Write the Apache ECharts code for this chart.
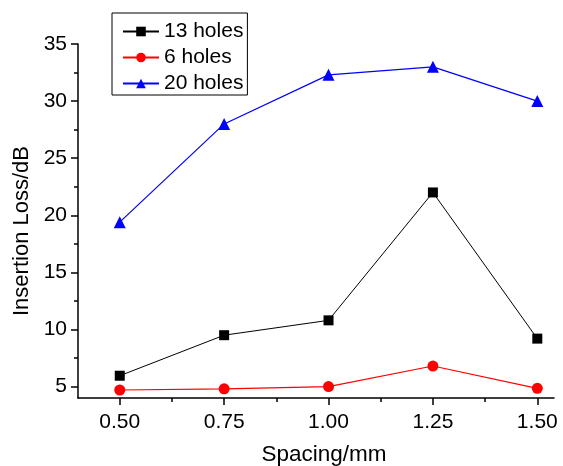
<!DOCTYPE html>
<html>
<head>
<meta charset="utf-8">
<script src="https://cdn.jsdelivr.net/npm/echarts@6/dist/echarts.min.js"></script>
<style>
  html, body { margin: 0; padding: 0; background: #fff; }
  #chart { width: 563px; height: 466px; }
</style>
</head>
<body>
<div id="chart"></div>
<script>
// Hole spacing (mm) on the x axis
const spacing = [0.50, 0.75, 1.00, 1.25, 1.50];
// Insertion loss (dB) for each perforation count
const holes13 = [5.95, 9.5, 10.8, 22.0, 9.2];
const holes6 = [4.7, 4.8, 5.0, 6.8, 4.85];
const holes20 = [19.4, 28.0, 32.3, 33.0, 30.0];
// Axis tick positions
const xMajorTicks = [0.50, 0.75, 1.00, 1.25, 1.50];
const xMinorTicks = [0.625, 0.875, 1.125, 1.375];
const yMajorTicks = [5, 10, 15, 20, 25, 30, 35];
const yMinorTicks = [7.5, 12.5, 17.5, 22.5, 27.5, 32.5];

const FONT = 'Liberation Sans, Arial, sans-serif';
const pairs = (ys) => spacing.map((x, i) => [x, ys[i]]);

const chart = echarts.init(document.getElementById('chart'));
chart.setOption({
  animation: false,
  backgroundColor: '#fff',
  grid: { left: 78, right: 9, top: 44, bottom: 68, containLabel: false, outerBoundsMode: 'none' },
  legend: {
    left: 112, top: 13, orient: 'vertical',
    padding: [8, 4, 1, 10],
    borderColor: '#000', borderWidth: 1,
    itemWidth: 36, itemHeight: 12, itemGap: 5,
    textStyle: { fontFamily: FONT, fontSize: 21, color: '#000' },
    data: ['13 holes', '6 holes', '20 holes']
  },
  xAxis: [{
    type: 'value', min: 0.4, max: 1.54,
    name: 'Spacing/mm', nameLocation: 'middle', nameGap: 45,
    nameTextStyle: { fontFamily: FONT, fontSize: 22.5, color: '#000', padding: [0, 0, 0, 16] },
    axisLine: { show: true, lineStyle: { color: '#000', width: 1.5 } },
    axisTick: { show: true, customValues: xMajorTicks, length: 7, lineStyle: { color: '#000', width: 1.5 } },
    axisLabel: {
      customValues: xMajorTicks, margin: 14,
      fontFamily: FONT, fontSize: 21, color: '#000',
      formatter: (v) => v.toFixed(2)
    },
    splitLine: { show: false }
  }, {
    type: 'value', min: 0.4, max: 1.54, position: 'bottom',
    axisLine: { show: false },
    axisTick: { show: true, customValues: xMinorTicks, length: 4, lineStyle: { color: '#000', width: 1.5 } },
    axisLabel: { show: false },
    splitLine: { show: false }
  }],
  yAxis: [{
    type: 'value', min: 4, max: 35,
    name: 'Insertion Loss/dB', nameLocation: 'middle', nameGap: 41,
    nameTextStyle: { fontFamily: FONT, fontSize: 22, color: '#000', padding: [0, 20, 0, 0] },
    axisLine: { show: true, lineStyle: { color: '#000', width: 1.5 } },
    axisTick: { show: true, customValues: yMajorTicks, length: 7, lineStyle: { color: '#000', width: 1.5 } },
    axisLabel: {
      customValues: yMajorTicks, margin: 11,
      fontFamily: FONT, fontSize: 21, color: '#000'
    },
    splitLine: { show: false }
  }, {
    type: 'value', min: 4, max: 35, position: 'left',
    axisLine: { show: false },
    axisTick: { show: true, customValues: yMinorTicks, length: 4, lineStyle: { color: '#000', width: 1.5 } },
    axisLabel: { show: false },
    splitLine: { show: false }
  }],
  series: [{
    name: '13 holes', type: 'line', data: pairs(holes13),
    symbol: 'rect', symbolSize: 10,
    itemStyle: { color: '#000' },
    lineStyle: { color: '#000', width: 1 }
  }, {
    name: '6 holes', type: 'line', data: pairs(holes6),
    symbol: 'circle', symbolSize: 11,
    itemStyle: { color: '#ff0000' },
    lineStyle: { color: '#ff0000', width: 1.2 }
  }, {
    name: '20 holes', type: 'line', data: pairs(holes20),
    symbol: 'triangle', symbolSize: 12,
    itemStyle: { color: '#0000ff' },
    lineStyle: { color: '#0000ff', width: 1.2 }
  }]
});
</script>
</body>
</html>
